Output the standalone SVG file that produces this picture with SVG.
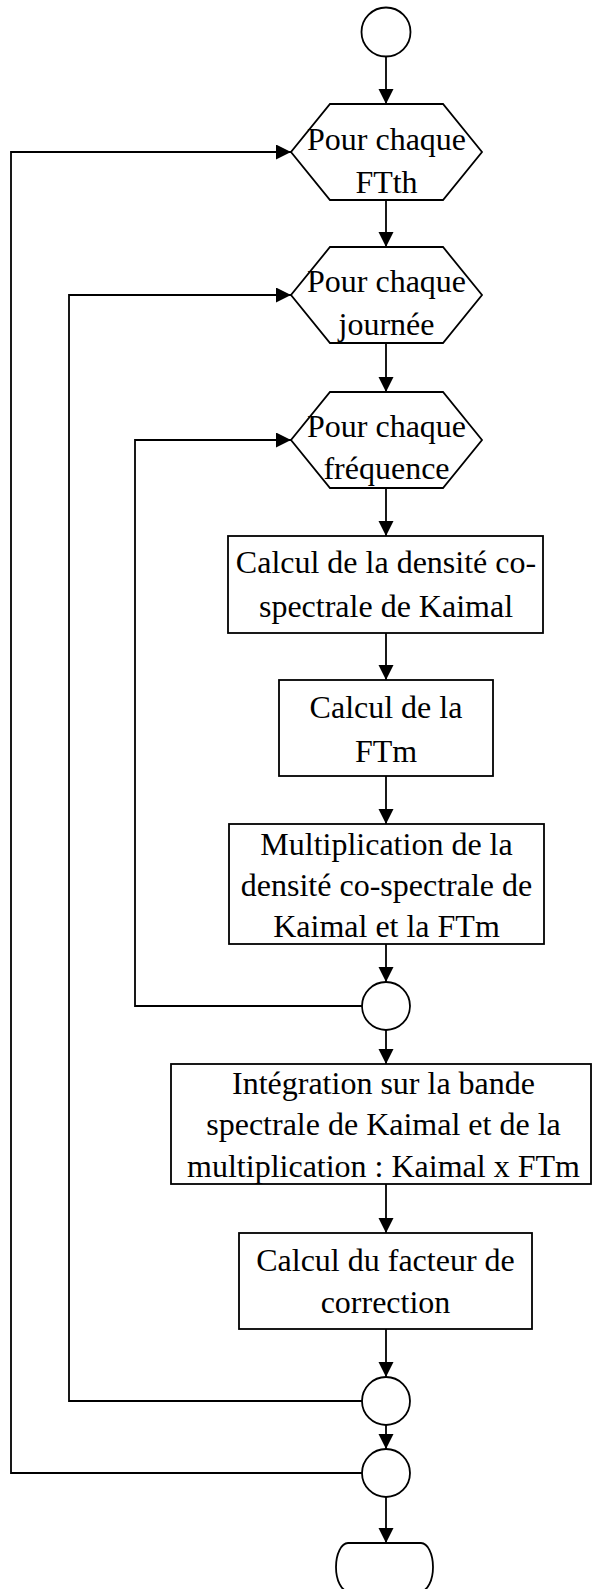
<svg xmlns="http://www.w3.org/2000/svg" width="592" height="1589" viewBox="0 0 592 1589">
<style>
.s{fill:#fff;stroke:#000;stroke-width:1.8}
.c{fill:none;stroke:#000;stroke-width:1.8}
.t{font-family:"Liberation Serif","Times New Roman",serif;font-size:32px;fill:#000;text-anchor:middle}
</style>
<defs>
<marker id="ah" markerUnits="userSpaceOnUse" markerWidth="16" markerHeight="16" refX="15" refY="7.5" orient="auto">
<path d="M0,0 L15,7.5 L0,15 Z" fill="#000"/>
</marker>
</defs>
<g id="connectors">
<line class="c" x1="386" y1="57" x2="386" y2="104" marker-end="url(#ah)"/>
<line class="c" x1="386" y1="200" x2="386" y2="247" marker-end="url(#ah)"/>
<line class="c" x1="386" y1="343" x2="386" y2="392" marker-end="url(#ah)"/>
<line class="c" x1="386" y1="488" x2="386" y2="536" marker-end="url(#ah)"/>
<line class="c" x1="386" y1="633" x2="386" y2="680" marker-end="url(#ah)"/>
<line class="c" x1="386" y1="776" x2="386" y2="824" marker-end="url(#ah)"/>
<line class="c" x1="386" y1="944" x2="386" y2="982" marker-end="url(#ah)"/>
<line class="c" x1="386" y1="1030" x2="386" y2="1064" marker-end="url(#ah)"/>
<line class="c" x1="386" y1="1184" x2="386" y2="1233" marker-end="url(#ah)"/>
<line class="c" x1="386" y1="1329" x2="386" y2="1377" marker-end="url(#ah)"/>
<line class="c" x1="386" y1="1425" x2="386" y2="1449" marker-end="url(#ah)"/>
<line class="c" x1="386" y1="1497" x2="386" y2="1543" marker-end="url(#ah)"/>
<polyline class="c" points="362,1006 135,1006 135,440 291,440" marker-end="url(#ah)"/>
<polyline class="c" points="362,1401 69,1401 69,295 291,295" marker-end="url(#ah)"/>
<polyline class="c" points="362,1473 11,1473 11,152 291,152" marker-end="url(#ah)"/>
</g>
<g id="start"><circle class="s" cx="386" cy="32" r="24.5"/></g>
<g id="loop-ftth">
<polygon class="s" points="330,104 443,104 482,152 443,200 330,200 291,152"/>
<text class="t" x="386.5" y="150">Pour chaque</text>
<text class="t" x="386.5" y="193">FTth</text>
</g>
<g id="loop-journee">
<polygon class="s" points="330,247 443,247 482,295 443,343 330,343 291,295"/>
<text class="t" x="386.5" y="292">Pour chaque</text>
<text class="t" x="386.5" y="335">journée</text>
</g>
<g id="loop-frequence">
<polygon class="s" points="330,392 443,392 482,440 443,488 330,488 291,440"/>
<text class="t" x="386.5" y="437">Pour chaque</text>
<text class="t" x="386.5" y="479">fréquence</text>
</g>
<g id="kaimal">
<rect class="s" x="228" y="536" width="315" height="97"/>
<text class="t" x="386" y="573">Calcul de la densité co-</text>
<text class="t" x="386" y="617">spectrale de Kaimal</text>
</g>
<g id="ftm">
<rect class="s" x="279" y="680" width="214" height="96"/>
<text class="t" x="386" y="718">Calcul de la</text>
<text class="t" x="386" y="762">FTm</text>
</g>
<g id="multiplication">
<rect class="s" x="229" y="824" width="315" height="120"/>
<text class="t" x="386.5" y="855">Multiplication de la</text>
<text class="t" x="386.5" y="896">densité co-spectrale de</text>
<text class="t" x="386.5" y="937">Kaimal et la FTm</text>
</g>
<g id="end-frequence"><circle class="s" cx="386" cy="1006" r="24"/></g>
<g id="integration">
<rect class="s" x="171" y="1064" width="420" height="120"/>
<text class="t" x="383.5" y="1094">Intégration sur la bande</text>
<text class="t" x="383.5" y="1135">spectrale de Kaimal et de la</text>
<text class="t" x="383.5" y="1177">multiplication : Kaimal x FTm</text>
</g>
<g id="correction">
<rect class="s" x="239" y="1233" width="293" height="96"/>
<text class="t" x="385.5" y="1271">Calcul du facteur de</text>
<text class="t" x="385.5" y="1313">correction</text>
</g>
<g id="end-journee"><circle class="s" cx="386" cy="1401" r="24"/></g>
<g id="end-ftth"><circle class="s" cx="386" cy="1473" r="24"/></g>
<g id="end"><path class="s" d="M348,1543 H421 A12,24 0 0 1 421,1591 H348 A12,24 0 0 1 348,1543 Z"/></g>
</svg>
